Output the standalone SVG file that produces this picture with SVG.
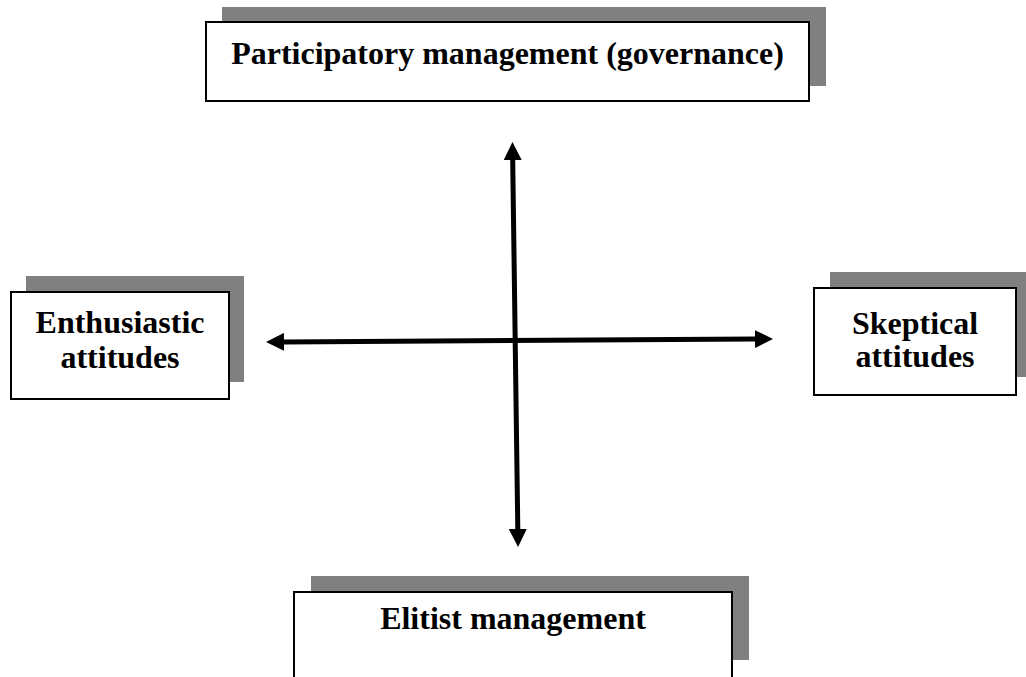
<svg xmlns="http://www.w3.org/2000/svg" width="1026" height="677" viewBox="0 0 1026 677">
<style>
.shadow{fill:#808080;stroke:none}
.box{fill:#ffffff;stroke:#000000;stroke-width:2}
.lbl{font-family:"Liberation Serif","Times New Roman",serif;font-weight:bold;font-size:32px;fill:#000000;text-anchor:middle}
.axis{stroke:#000000;stroke-width:5;fill:none}
</style>
<defs>
<marker id="ah" markerUnits="userSpaceOnUse" markerWidth="18" markerHeight="18" refX="0" refY="9" orient="auto-start-reverse">
<path d="M0,0 L18,9 L0,18 z" fill="#000000"/>
</marker>
</defs>
<rect width="1026" height="677" fill="#ffffff"/>
<g id="connectors">
<line class="axis" x1="512.7" y1="160" x2="517.8" y2="529" marker-start="url(#ah)" marker-end="url(#ah)"/>
<line class="axis" x1="284" y1="341.9" x2="755" y2="339.1" marker-start="url(#ah)" marker-end="url(#ah)"/>
</g>
<g id="node-participatory">
<rect class="shadow" x="222" y="7" width="604" height="79"/>
<rect class="box" x="206" y="22" width="603" height="79"/>
<text class="lbl" x="507.5" y="64">Participatory management (governance)</text>
</g>
<g id="node-enthusiastic">
<rect class="shadow" x="26" y="276" width="218" height="106"/>
<rect class="box" x="11" y="292" width="218" height="107"/>
<text class="lbl" x="120" y="333">Enthusiastic</text>
<text class="lbl" x="120" y="368">attitudes</text>
</g>
<g id="node-skeptical">
<rect class="shadow" x="830" y="272" width="200" height="105"/>
<rect class="box" x="814" y="288" width="202" height="107"/>
<text class="lbl" x="915" y="334">Skeptical</text>
<text class="lbl" x="915" y="367">attitudes</text>
</g>
<g id="node-elitist">
<rect class="shadow" x="311" y="576" width="438" height="84"/>
<rect class="box" x="294" y="592" width="438" height="90"/>
<text class="lbl" x="513" y="629">Elitist management</text>
</g>
</svg>
